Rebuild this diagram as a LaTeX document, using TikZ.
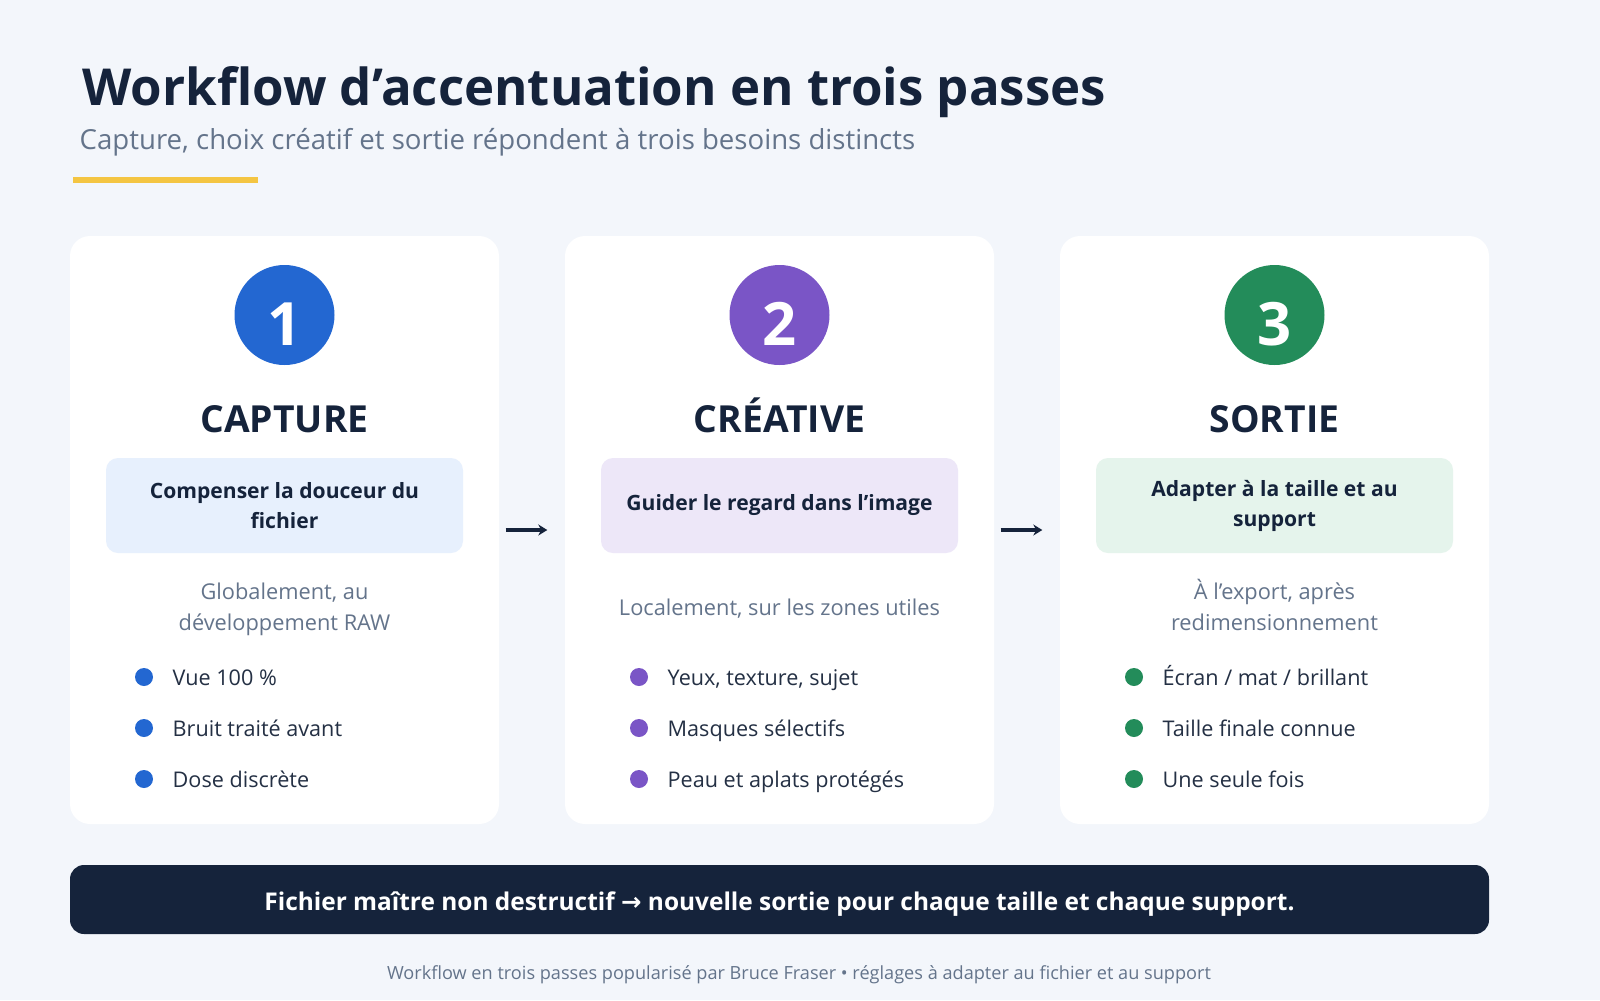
\documentclass[tikz,border=0pt]{standalone}
\usepackage{fontspec}
\setmainfont{Open Sans}
\newfontfamily\symbfont{DejaVu Sans}
\usetikzlibrary{arrows.meta}
\definecolor{pagebg}{HTML}{F3F6FB}
\definecolor{ink}{HTML}{15233B}
\definecolor{body}{HTML}{243044}
\definecolor{muted}{HTML}{64748B}
\definecolor{accent}{HTML}{F4C542}
\definecolor{capblue}{HTML}{2367D1}
\definecolor{crepurple}{HTML}{7A55C6}
\definecolor{outgreen}{HTML}{238C5A}
\definecolor{capfill}{HTML}{E7F0FD}
\definecolor{crefill}{HTML}{EDE7F8}
\definecolor{outfill}{HTML}{E5F4EC}
\begin{document}
\begin{tikzpicture}[x=0.1mm,y=-0.1mm,
  card/.style={fill=white,rounded corners=2mm,minimum width=42.9mm,minimum height=58.8mm,inner sep=0},
  badge/.style={circle,minimum size=10mm,inner sep=0,text=white,text height=6mm,text depth=0mm,
    font=\bfseries\fontsize{17}{17}\selectfont},
  stage/.style={anchor=base,inner sep=0,text=ink,font=\bfseries\fontsize{10.6}{10.6}\selectfont},
  goal/.style={rounded corners=1.2mm,minimum width=35.7mm,minimum height=9.5mm,inner sep=0,
    align=center,text=ink,font=\bfseries\fontsize{6}{8.54}\selectfont},
  where/.style={anchor=base,inner sep=0,align=center,text=muted,font=\fontsize{6.2}{8.54}\selectfont},
  dot/.style={circle,minimum size=1.8mm,inner sep=0},
  item/.style={anchor=base west,inner sep=0,text=body,font=\fontsize{6.15}{6.15}\selectfont},
  flow/.style={-{Stealth[length=0.9mm,width=1.1mm]},line width=0.32mm,draw=ink,
    shorten <=0.6mm,shorten >=1.7mm}]
  \fill[pagebg] (0,0) rectangle (1600,1000);
  \useasboundingbox (0,0) rectangle (1600,1000);
  % heading
  \node[anchor=base west,inner sep=0,text=ink,font=\bfseries\fontsize{14.5}{14.5}\selectfont] (title) at (82,105)
    {Workflow d’accentuation en trois passes};
  \node[anchor=base west,inner sep=0,text=muted,font=\fontsize{7.85}{7.85}\selectfont] (subtitle) at (79,149)
    {Capture, choix créatif et sortie répondent à trois besoins distincts};
  \fill[accent] (73,177) rectangle (258,183);
  % cards
  \node[card] (card1) at (284.5,530) {};
  \node[card] (card2) at (779.5,530) {};
  \node[card] (card3) at (1274.5,530) {};
  \draw[flow] (card1.east) -- (card2.west);
  \draw[flow] (card2.east) -- (card3.west);
  % pass 1
  \node[badge,fill=capblue] (badge1) at (284.5,315) {1};
  \node[stage] (stage1) at (284.5,432) {CAPTURE};
  \node[goal,fill=capfill] (goal1) at (284.5,505.5) {Compenser la douceur du\\fichier};
  \node[where] (where1) at (284.5,630) {Globalement, au\\développement RAW};
  \node[dot,fill=capblue] (dot11) at (144,677) {};
  \node[dot,fill=capblue] (dot12) at (144,728) {};
  \node[dot,fill=capblue] (dot13) at (144,779) {};
  \node[item] (item11) at (172,685) {Vue 100 \%};
  \node[item] (item12) at (172,736) {Bruit traité avant};
  \node[item] (item13) at (172,787) {Dose discrète};
  % pass 2
  \node[badge,fill=crepurple] (badge2) at (779.5,315) {2};
  \node[stage] (stage2) at (779.5,432) {CRÉATIVE};
  \node[goal,fill=crefill] (goal2) at (779.5,505.5) {Guider le regard dans l’image};
  \node[where] (where2) at (779.5,615) {Localement, sur les zones utiles};
  \node[dot,fill=crepurple] (dot21) at (639,677) {};
  \node[dot,fill=crepurple] (dot22) at (639,728) {};
  \node[dot,fill=crepurple] (dot23) at (639,779) {};
  \node[item] (item21) at (667,685) {Yeux, texture, sujet};
  \node[item] (item22) at (667,736) {Masques sélectifs};
  \node[item] (item23) at (667,787) {Peau et aplats protégés};
  % pass 3
  \node[badge,fill=outgreen] (badge3) at (1274.5,315) {3};
  \node[stage] (stage3) at (1274.5,432) {SORTIE};
  \node[goal,fill=outfill] (goal3) at (1274.5,505.5) {Adapter à la taille et au\\support};
  \node[where] (where3) at (1274.5,630) {À l’export, après\\redimensionnement};
  \node[dot,fill=outgreen] (dot31) at (1134,677) {};
  \node[dot,fill=outgreen] (dot32) at (1134,728) {};
  \node[dot,fill=outgreen] (dot33) at (1134,779) {};
  \node[item] (item31) at (1162,685) {Écran / mat / brillant};
  \node[item] (item32) at (1162,736) {Taille finale connue};
  \node[item] (item33) at (1162,787) {Une seule fois};
  % bottom note
  \node[fill=ink,rounded corners=1.4mm,minimum width=141.9mm,minimum height=6.9mm,inner sep=0,
    text height=2.8mm,text depth=0.6mm,
    text=white,font=\bfseries\fontsize{6.95}{6.95}\selectfont] (note) at (779.5,899.5)
    {Fichier maître non destructif {\symbfont →} nouvelle sortie pour chaque taille et chaque support.};
  \node[anchor=base,inner sep=0,text=muted,font=\fontsize{5.16}{5.16}\selectfont] (credit) at (799,979)
    {Workflow en trois passes popularisé par Bruce Fraser • réglages à adapter au fichier et au support};
\end{tikzpicture}
\end{document}
